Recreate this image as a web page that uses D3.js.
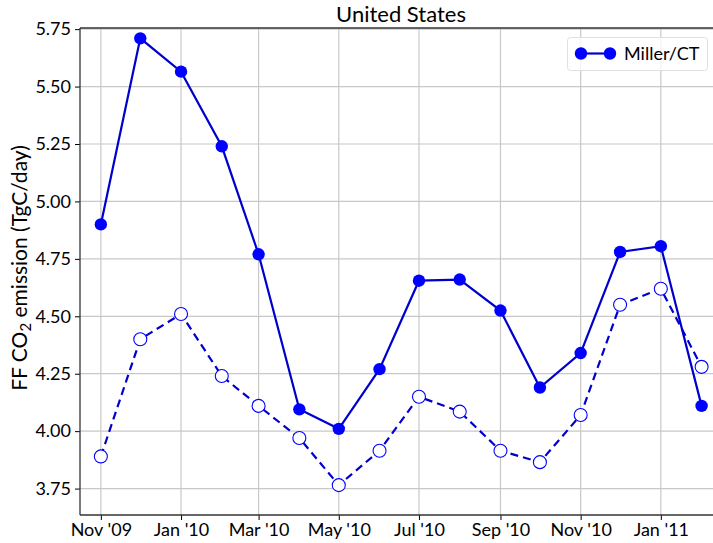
<!DOCTYPE html>
<html>
<head>
<meta charset="utf-8"/>
<script src="https://d3js.org/d3.v7.min.js"></script>
<style>
  body { margin: 0; background: #fff; }
  text { font-family: Lato, "Open Sans", sans-serif; fill: #000; }
</style>
</head>
<body>
<div id="chart"></div>
<script>
// monthly points, Nov 2009 .. Feb 2011
var months = ["2009-11","2009-12","2010-01","2010-02","2010-03","2010-04","2010-05","2010-06",
              "2010-07","2010-08","2010-09","2010-10","2010-11","2010-12","2011-01","2011-02"];
var millerCT = [4.90, 5.71, 5.565, 5.24, 4.77, 4.095, 4.01, 4.27,
                4.655, 4.66, 4.525, 4.19, 4.34, 4.78, 4.805, 4.11];
var prior = [3.89, 4.40, 4.51, 4.24, 4.11, 3.97, 3.765, 3.915,
             4.15, 4.085, 3.915, 3.865, 4.07, 4.55, 4.62, 4.28];
var yTicks = [3.75, 4.00, 4.25, 4.50, 4.75, 5.00, 5.25, 5.50, 5.75];
var xTickMonths = ["2009-11","2010-01","2010-03","2010-05","2010-07","2010-09","2010-11","2011-01"];

var W = 713, H = 543;
var m = {left: 80, top: 28, bottom: 28};

var parse = d3.timeParse("%Y-%m");
var dates = months.map(parse);

var svg = d3.select("#chart").append("svg")
    .attr("width", W).attr("height", H);

// one month is about 39.9px, Nov '09 sits at px 100
var x = d3.scaleTime()
    .domain([parse("2009-10"), parse("2011-03")])
    .range([100 - 39.9, 100 + 16 * 39.9]);

var y = d3.scaleLinear().domain([3.635, 5.755]).range([H - m.bottom, m.top]);

var x0 = m.left, x1 = W + 10, y0 = H - m.bottom, y1 = m.top;

// grid
var grid = svg.append("g");
grid.selectAll("line.gy").data(yTicks).enter().append("line")
    .attr("x1", x0).attr("x2", x1)
    .attr("y1", function(d){ return y(d); }).attr("y2", function(d){ return y(d); })
    .attr("stroke", "#c8c8c8").attr("stroke-width", 1.2);
grid.selectAll("line.gx").data(xTickMonths).enter().append("line")
    .attr("x1", function(d){ return x(parse(d)); }).attr("x2", function(d){ return x(parse(d)); })
    .attr("y1", y0).attr("y2", y1)
    .attr("stroke", "#c8c8c8").attr("stroke-width", 1.2);

// axes
var fmtMonth = d3.timeFormat("%b '%y");
var xAxis = d3.axisBottom(x)
    .tickValues(xTickMonths.map(parse))
    .tickFormat(fmtMonth)
    .tickSize(5).tickPadding(3);
var gx = svg.append("g").attr("transform", "translate(0," + y0 + ")").call(xAxis);
gx.select(".domain").remove();
gx.selectAll("text").attr("font-size", 18).attr("font-family", "Lato, 'Open Sans', sans-serif");

var yAxis = d3.axisLeft(y).tickValues(yTicks).tickFormat(d3.format(".2f"))
    .tickSize(5).tickPadding(4);
var gy = svg.append("g").attr("transform", "translate(" + x0 + ",0)").call(yAxis);
gy.select(".domain").remove();
gy.selectAll("text").attr("font-size", 18).attr("font-family", "Lato, 'Open Sans', sans-serif");

// spines
svg.append("line").attr("x1", x0).attr("x2", x0).attr("y1", y1).attr("y2", y0)
    .attr("stroke", "#333").attr("stroke-width", 1.3);
svg.append("line").attr("x1", x0).attr("x2", x1).attr("y1", y0).attr("y2", y0)
    .attr("stroke", "#333").attr("stroke-width", 1.3);
svg.append("line").attr("x1", x0).attr("x2", x1).attr("y1", y1).attr("y2", y1)
    .attr("stroke", "#333").attr("stroke-width", 1.3);

var line = d3.line()
    .x(function(d, i){ return x(dates[i]); })
    .y(function(d){ return y(d); });

// dashed prior
svg.append("path").datum(prior)
    .attr("d", line).attr("fill", "none")
    .attr("stroke", "#0000cd").attr("stroke-width", 2.2)
    .attr("stroke-dasharray", "8,5");
svg.selectAll("circle.prior").data(prior).enter().append("circle")
    .attr("cx", function(d, i){ return x(dates[i]); })
    .attr("cy", function(d){ return y(d); })
    .attr("r", 6.5).attr("fill", "#fff")
    .attr("stroke", "#0000ff").attr("stroke-width", 1.1);

// solid Miller/CT
svg.append("path").datum(millerCT)
    .attr("d", line).attr("fill", "none")
    .attr("stroke", "#0000cd").attr("stroke-width", 2.2);
svg.selectAll("circle.miller").data(millerCT).enter().append("circle")
    .attr("cx", function(d, i){ return x(dates[i]); })
    .attr("cy", function(d){ return y(d); })
    .attr("r", 6.2).attr("fill", "#0000ff");

// title
svg.append("text").attr("x", 401).attr("y", 22).attr("text-anchor", "middle")
    .attr("font-size", 22).text("United States");

// y label
svg.append("text")
    .attr("transform", "translate(27," + 268 + ") rotate(-90)")
    .attr("text-anchor", "middle").attr("font-size", 21)
    .html("FF CO<tspan font-size='15' dy='4'>2</tspan><tspan dy='-4'> emission (TgC/day)</tspan>");

// legend
var lg = svg.append("g");
lg.append("rect").attr("x", 567.5).attr("y", 37.5).attr("width", 140).attr("height", 33)
    .attr("rx", 3).attr("fill", "#fff").attr("fill-opacity", 0.8)
    .attr("stroke", "#e0e0e0").attr("stroke-width", 1);
lg.append("line").attr("x1", 581).attr("x2", 610).attr("y1", 53.5).attr("y2", 53.5)
    .attr("stroke", "#0000cd").attr("stroke-width", 2.2);
lg.selectAll("circle").data([581, 610]).enter().append("circle")
    .attr("cx", function(d){ return d; }).attr("cy", 53.5).attr("r", 6.2).attr("fill", "#0000ff");
lg.append("text").attr("x", 624).attr("y", 60).attr("font-size", 18).text("Miller/CT");
</script>
</body>
</html>
